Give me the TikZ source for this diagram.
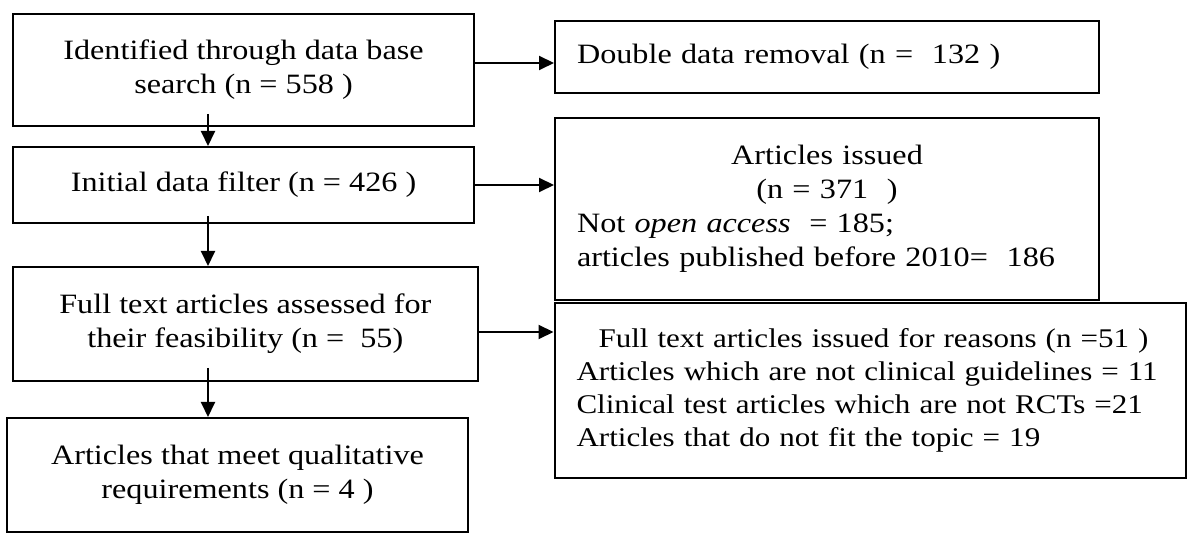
\documentclass[tikz,border=0pt]{standalone}
\usepackage{fontspec}
\setmainfont{Liberation Serif}[FakeStretch=1.15]
\usetikzlibrary{arrows.meta}
\begin{document}
\begin{tikzpicture}[x=1pt,y=-1pt,
  box/.style={draw, line width=2pt, inner ysep=0pt, inner xsep=22pt,
    font=\fontsize{28}{34}\selectfont},
  smallbox/.style={box, font=\fontsize{27}{33}\selectfont},
  arr/.style={line width=2pt, -{Triangle[length=15pt,width=14pt]}}]
\useasboundingbox (0,0) rectangle (1187,534);
% left column
\node[box, minimum width=461.5pt, minimum height=112pt, align=center] (b1) at (243.5,70)
  {Identified through data base\\search (n = 558 )};
\node[box, minimum width=461.5pt, minimum height=76pt, align=center] (b2) at (243.5,185)
  {Initial data filter (n = 426 )};
\node[box, minimum width=465.4pt, minimum height=114pt, align=center] (b3) at (245.3,324)
  {Full text articles assessed for\\their feasibility (n =\ \ 55)};
\node[box, minimum width=461pt, minimum height=114pt, align=center] (b4) at (237.5,475)
  {Articles that meet qualitative\\requirements (n = 4 )};
% right column
\node[box, minimum width=544pt, minimum height=72pt, text width=500pt, align=left] (b5) at (827,57)
  {Double data removal (n =\ \ 132 )};
\node[box, minimum width=544pt, minimum height=182pt, text width=500pt, align=center] (b6) at (827,209)
  {Articles issued\\(n = 371\ \ )\\\makebox[500pt][l]{Not \emph{open access}\ \ = 185;}\\\makebox[500pt][l]{articles published before 2010=\ \ 186}};
\node[smallbox, minimum width=630pt, minimum height=175pt, text width=587pt, align=left] (b7) at (870,390.5)
  {\hspace*{22pt}Full text articles issued for reasons (n =51 )\\Articles which are not clinical guidelines = 11\\Clinical test articles which are not RCTs =21\\Articles that do not fit the topic = 19};
% vertical connectors
\draw[arr] ([xshift=-35.5pt,yshift=13pt]b1.south) -- ([xshift=-35.5pt]b2.north);
\draw[arr] ([xshift=-35.5pt,yshift=8pt]b2.south) -- ([xshift=-37.3pt]b3.north);
\draw[arr] ([xshift=-37.3pt,yshift=14pt]b3.south) coordinate (s34) -- (s34 |- b4.north);
% horizontal connectors
\draw[arr] ([yshift=7pt]b1.east) coordinate (s15) -- (s15 -| b5.west);
\draw[arr] (b2.east) -- (b2.east -| b6.west);
\draw[arr] ([yshift=-8pt]b3.east) coordinate (s37) -- (s37 -| b7.west);
\end{tikzpicture}
\end{document}
